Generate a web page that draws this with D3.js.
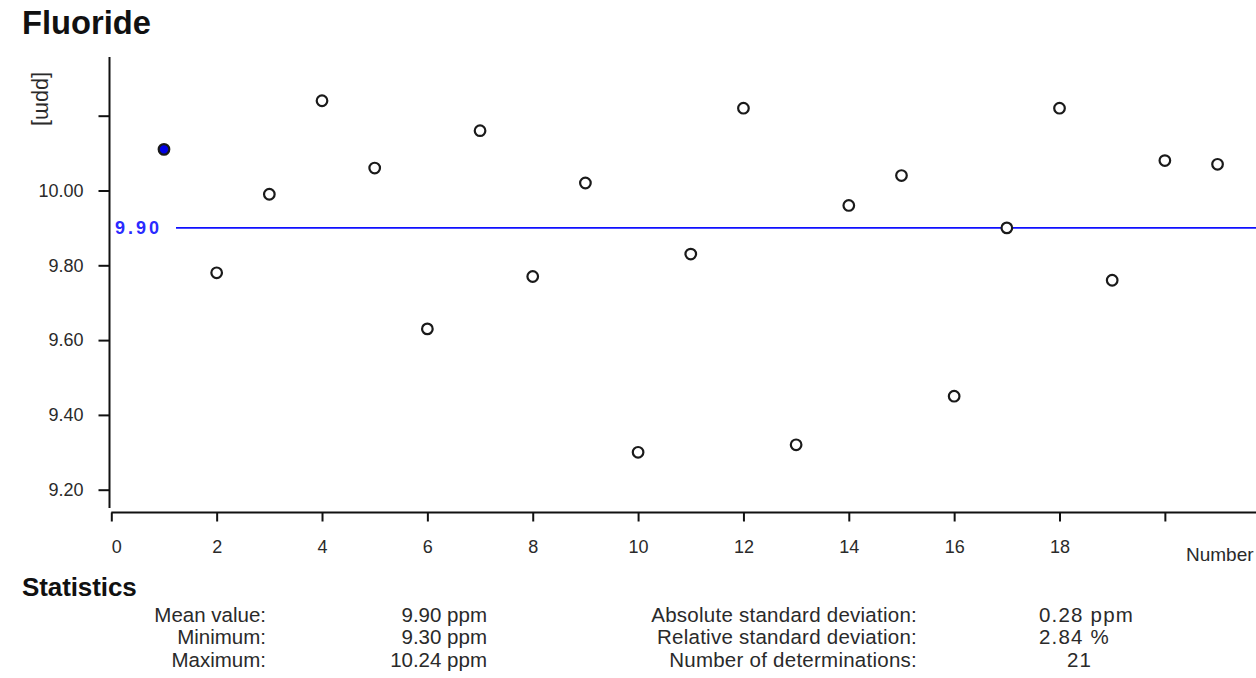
<!DOCTYPE html>
<html>
<head>
<meta charset="utf-8">
<script src="https://cdn.jsdelivr.net/npm/d3@7"></script>
<style>
  html, body { margin: 0; padding: 0; background: #fff; overflow: hidden; }
  svg { display: block; font-family: "Liberation Sans", Arial, sans-serif; }
</style>
</head>
<body>
<svg id="chart" width="1256" height="678"></svg>
<script>
// ---- data ----
const determinations = [1,2,3,4,5,6,7,8,9,10,11,12,13,14,15,16,17,18,19,20,21];
const fluorideValues = [10.11,9.78,9.99,10.24,10.06,9.63,10.16,9.77,10.02,9.30,9.83,10.22,9.32,9.96,10.04,9.45,9.90,10.22,9.76,10.08,10.07];
const highlighted = [1];
const meanValue = 9.90;
const yTickValues = [9.2, 9.4, 9.6, 9.8, 10.0, 10.2];
const yTickLabels = ["9.20", "9.40", "9.60", "9.80", "10.00", ""];
const xTickValues = [0, 2, 4, 6, 8, 10, 12, 14, 16, 18, 20];
const xTickLabels = ["0", "2", "4", "6", "8", "10", "12", "14", "16", "18", ""];
const statLabelsLeft = ["Mean value:", "Minimum:", "Maximum:"];
const statValuesLeft = ["9.90 ppm", "9.30 ppm", "10.24 ppm"];
const statLabelsRight = ["Absolute standard deviation:", "Relative standard deviation:", "Number of determinations:"];
const statValuesRight = ["0.28 ppm", "2.84 %", "21"];

const svg = d3.select("#chart");

// ---- scales ----
const x = d3.scaleLinear().domain([0, 21.73]).range([111.3, 1256]);
const y = d3.scaleLinear().domain([9.2, 10.2]).range([489.7, 115.7]);

// title
svg.append("text").attr("x", 22).attr("y", 34)
  .attr("font-size", 32.7).attr("font-weight", "bold").attr("fill", "#111")
  .text("Fluoride");

// y axis
const yAxis = d3.axisLeft(y).tickValues(yTickValues)
  .tickFormat((d, i) => yTickLabels[i]).tickSize(11).tickPadding(15);
const gy = svg.append("g").attr("transform", "translate(109.5,0)").call(yAxis);
gy.select(".domain").attr("d", "M0,57V508").attr("stroke", "#111").attr("stroke-width", 2);
gy.selectAll(".tick line").attr("stroke", "#111").attr("stroke-width", 2);
gy.selectAll(".tick text").attr("font-size", 18).attr("fill", "#2a2a2a")
  .attr("font-family", "Liberation Sans, Arial, sans-serif");

// y axis unit
svg.append("text").attr("transform", "translate(36,99) rotate(90)")
  .attr("text-anchor", "middle").attr("font-size", 21.5).attr("fill", "#2a2a2a")
  .text("[ppm]");

// x axis
const xAxis = d3.axisBottom(x).tickValues(xTickValues)
  .tickFormat((d, i) => xTickLabels[i]).tickSize(9).tickPadding(19);
const gx = svg.append("g").attr("transform", "translate(0,512.5)").call(xAxis);
gx.select(".domain").attr("d", "M111.3,0H1256").attr("stroke", "#111").attr("stroke-width", 2);
gx.selectAll(".tick line").attr("stroke", "#111").attr("stroke-width", 2);
gx.selectAll(".tick text").attr("font-size", 18).attr("fill", "#2a2a2a")
  .attr("font-family", "Liberation Sans, Arial, sans-serif")
  .attr("text-anchor", d => d === 0 ? "start" : "middle");

svg.append("text").attr("x", 1186).attr("y", 561)
  .attr("font-size", 19).attr("fill", "#2a2a2a").text("Number");

// mean line
svg.append("line")
  .attr("x1", 176).attr("x2", 1256)
  .attr("y1", y(meanValue)).attr("y2", y(meanValue))
  .attr("stroke", "#1010ff").attr("stroke-width", 1.6);
svg.append("text").attr("x", 115).attr("y", y(meanValue) + 6.5)
  .attr("font-size", 18).attr("font-weight", "bold").attr("fill", "#2a2aff")
  .attr("letter-spacing", 3)
  .text(meanValue.toFixed(2));

// points
svg.append("g").selectAll("circle")
  .data(determinations.map((d, i) => ({ n: d, v: fluorideValues[i] })))
  .join("circle")
  .attr("cx", d => x(d.n))
  .attr("cy", d => y(d.v))
  .attr("r", 5.3)
  .attr("fill", d => highlighted.includes(d.n) ? "#0000e6" : "#fff")
  .attr("stroke", "#1a1a1a")
  .attr("stroke-width", 2.2);

// statistics
svg.append("text").attr("x", 22).attr("y", 596)
  .attr("font-size", 26).attr("font-weight", "bold").attr("fill", "#111")
  .attr("letter-spacing", -0.1)
  .text("Statistics");

const rowY = [622, 644, 667];
const st = svg.append("g").attr("font-size", 20.5).attr("fill", "#2a2a2a");
st.selectAll(".l1").data(statLabelsLeft).join("text")
  .attr("x", 266).attr("y", (d, i) => rowY[i]).attr("text-anchor", "end").text(d => d);
st.selectAll(".v1").data(statValuesLeft).join("text")
  .attr("x", 487).attr("y", (d, i) => rowY[i]).attr("text-anchor", "end").text(d => d);
st.selectAll(".l2").data(statLabelsRight).join("text")
  .attr("x", 917).attr("y", (d, i) => rowY[i]).attr("text-anchor", "end")
  .attr("letter-spacing", 0.25).text(d => d);
st.selectAll(".v2").data(statValuesRight).join("text")
  .attr("x", (d, i) => i === 2 ? 1067 : 1039).attr("y", (d, i) => rowY[i])
  .attr("letter-spacing", 1.2).text(d => d);
</script>
</body>
</html>
